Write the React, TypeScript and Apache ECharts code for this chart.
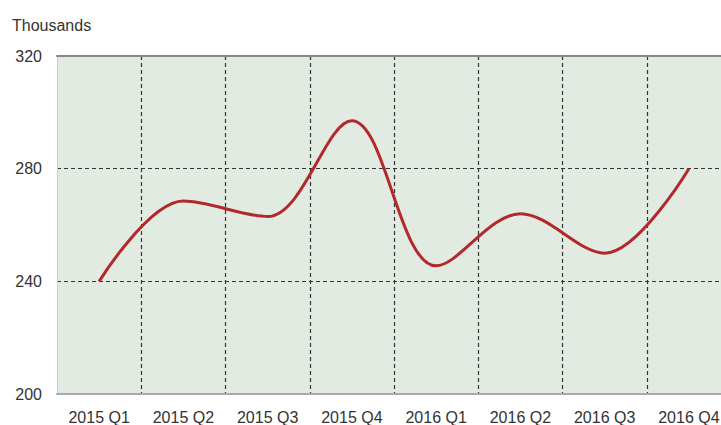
import React, { useEffect, useRef } from "react";
import * as echarts from "echarts";

const categories = ["2015 Q1", "2015 Q2", "2015 Q3", "2015 Q4", "2016 Q1", "2016 Q2", "2016 Q3", "2016 Q4"];
const values = [240, 268.5, 263, 297, 245.5, 264, 250, 280];
const yTicks = { min: 200, max: 320, interval: 40 };
const unitLabel = "Thousands";

const FONT = "'Liberation Sans', Arial, sans-serif";

export default function App() {
  const ref = useRef<HTMLDivElement>(null);
  useEffect(() => {
    if (!ref.current) return;
    const chart = echarts.init(ref.current, undefined, { renderer: "svg" });
    chart.setOption({
      animation: false,
      graphic: [
        {
          type: "text",
          left: 12,
          top: 17,
          style: { text: unitLabel, fontSize: 16, fontFamily: FONT, fill: "#333" },
        },
      ],
      grid: {
        left: 57,
        top: 56,
        width: 674,
        height: 338,
        show: true,
        backgroundColor: "#e2ebe2",
        borderWidth: 0,
        outerBoundsMode: "none",
        containLabel: false,
      },
      xAxis: [
        {
          type: "category",
          data: categories,
          boundaryGap: true,
          position: "bottom",
          axisLine: { show: true, lineStyle: { color: "#aaa", width: 2 } },
          axisTick: { show: false },
          axisLabel: { color: "#333", fontSize: 16, fontFamily: FONT, margin: 15 },
          splitLine: {
            show: true,
            interval: (index: number) => index !== 0,
            lineStyle: { color: "#333", type: [4, 3], width: 1.2 },
          },
        },
        {
          type: "category",
          data: categories,
          position: "top",
          axisLine: { show: true, lineStyle: { color: "#888", width: 2 } },
          axisTick: { show: false },
          axisLabel: { show: false },
          splitLine: { show: false },
        },
      ],
      yAxis: {
        type: "value",
        min: yTicks.min,
        max: yTicks.max,
        interval: yTicks.interval,
        axisLine: { show: true, lineStyle: { color: "#ccc", width: 1 } },
        axisTick: { show: false },
        axisLabel: { color: "#333", fontSize: 16, fontFamily: FONT, margin: 15 },
        splitLine: {
          show: true,
          lineStyle: { color: "#333", type: [4, 3], width: 1.2 },
        },
      },
      series: [
        {
          type: "line",
          data: values,
          smooth: 0.35,
          symbol: "none",
          lineStyle: { color: "#b3282b", width: 3 },
          z: 5,
        },
      ],
    });
    return () => chart.dispose();
  }, []);
  return <div ref={ref} style={{ width: 721, height: 425, position: "absolute", left: 0, top: 0 }} />;
}
